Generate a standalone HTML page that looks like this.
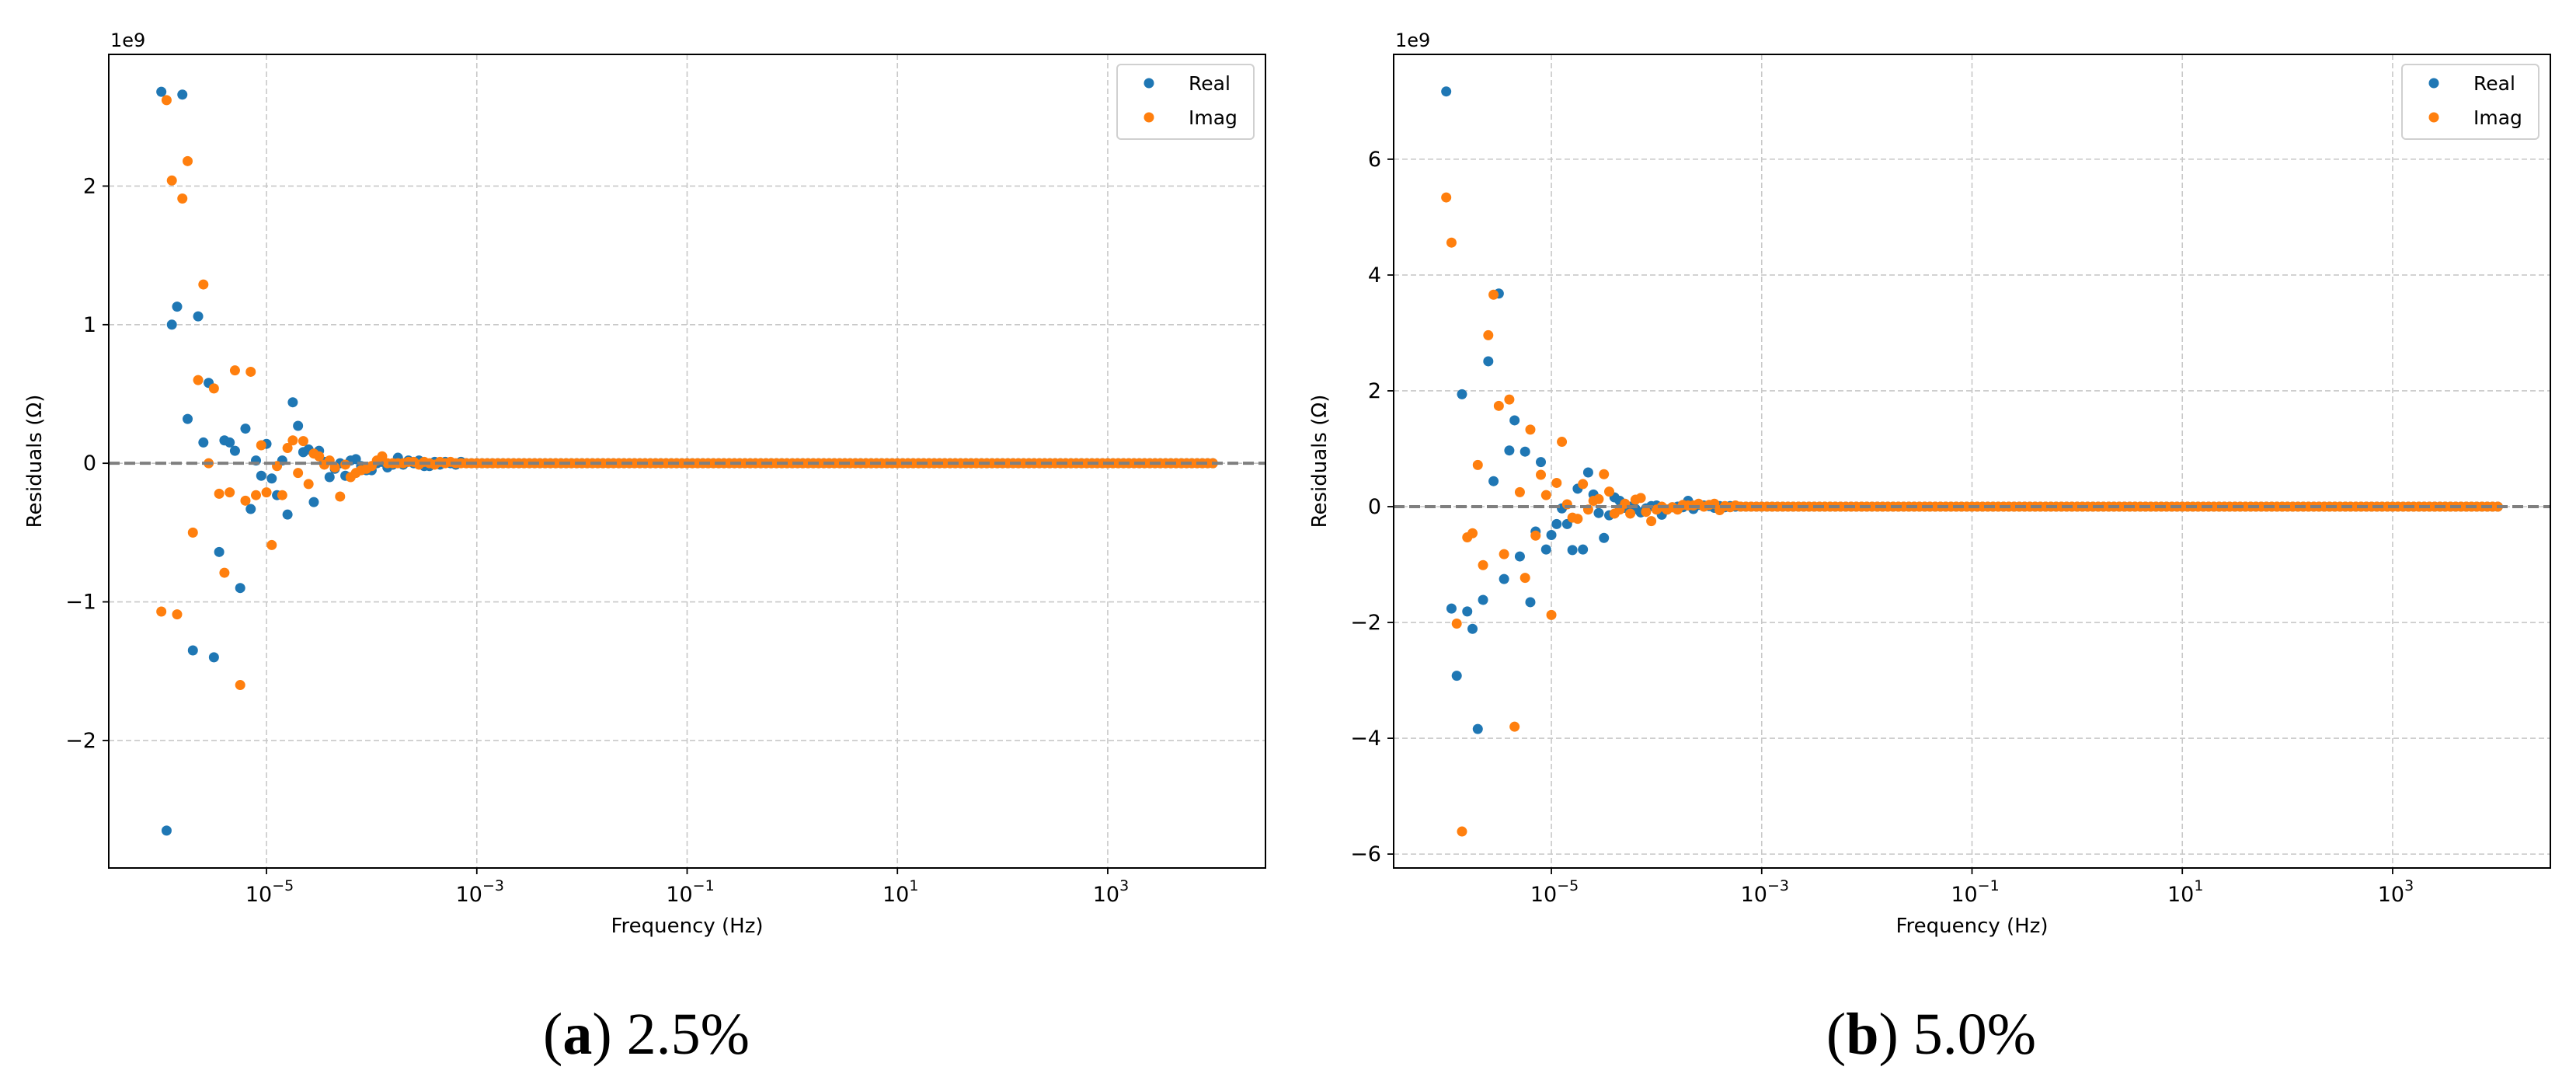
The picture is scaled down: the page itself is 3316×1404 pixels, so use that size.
<!DOCTYPE html>
<html><head><meta charset="utf-8"><style>
html,body{margin:0;padding:0;background:#fff;}
svg{display:block;}
text{font-family:"DejaVu Sans","Liberation Sans",sans-serif;fill:#000;}
.cap{font-family:"Liberation Serif",serif;font-size:76px;}
</style></head><body>
<svg id="fig" width="3316" height="1404" viewBox="0 0 3316 1404" xmlns="http://www.w3.org/2000/svg">
<text class="cap" x="832" y="1356" text-anchor="middle">(<tspan font-weight="bold">a</tspan>) 2.5%</text>
<text class="cap" x="2486" y="1356" text-anchor="middle">(<tspan font-weight="bold">b</tspan>) 5.0%</text>
</svg>
<script>
// ---- data ----
const logFreqStart = -6;       // first frequency exponent (1e-6 Hz)
const logFreqStep = 0.05;      // 20 points per decade
const pointCount = 201;        // up to 1e4 Hz
const xTickExps = [-5, -3, -1, 1, 3];

const realA = [2.68,-2.65,1.0,1.13,2.66,0.32,-1.35,1.06,0.15,0.58,-1.40,-0.64,0.165,0.15,0.09,-0.90,0.25,-0.33,0.02,-0.09,0.14,-0.11,-0.23,0.02,-0.37,0.44,0.27,0.08,0.10,-0.28,0.09,0.01,-0.10,-0.04,0,-0.09,0.02,0.03,-0.02,-0.05,-0.05,0,0.01,-0.03,-0.01,0.04,-0.01,0.02,0,0.02,-0.02,-0.02,0.01,-0.01,0.01,0,-0.01,0.01];
const imagA = [-1.07,2.62,2.04,-1.09,1.91,2.18,-0.50,0.60,1.29,0.0,0.54,-0.22,-0.79,-0.21,0.67,-1.60,-0.27,0.66,-0.23,0.13,-0.21,-0.59,-0.02,-0.23,0.11,0.165,-0.07,0.16,-0.15,0.07,0.05,-0.01,0.02,-0.03,-0.24,-0.01,-0.10,-0.07,-0.05,-0.04,-0.02,0.02,0.05,0,0,0,0,0.01,0.01,-0.01,0.01,0,-0.01,0.01,0,0.01];
const realB = [7.17,-1.76,-2.92,1.94,-1.81,-2.11,-3.84,-1.61,2.51,0.44,3.68,-1.25,0.97,1.49,-0.86,0.95,-1.65,-0.43,0.77,-0.74,-0.49,-0.30,-0.03,-0.30,-0.75,0.31,-0.74,0.59,0.21,-0.11,-0.54,-0.15,0.16,0.10,-0.02,0,-0.04,-0.10,-0.03,0.01,0.02,-0.14,-0.05,-0.01,0,-0.01,0.10,-0.04,0.03,0.02,0.01,-0.02,0.01,-0.01,0.01,0];
const imagB = [5.34,4.56,-2.02,-5.61,-0.53,-0.46,0.72,-1.01,2.96,3.66,1.74,-0.82,1.85,-3.80,0.25,-1.23,1.33,-0.50,0.55,0.20,-1.87,0.41,1.12,0.04,-0.19,-0.21,0.39,-0.05,0.10,0.13,0.56,0.26,-0.12,-0.05,0.05,-0.12,0.12,0.15,-0.09,-0.25,-0.05,0,-0.05,-0.01,-0.05,0.03,0.02,0.02,0.05,0,0.03,0.05,-0.06,0.01,-0.01,0.02,0];
const yTicksA = [-2, -1, 0, 1, 2];
const yTicksB = [-6, -4, -2, 0, 2, 4, 6];

// ---- drawing ----
const NS = "http://www.w3.org/2000/svg";
const svg = document.getElementById('fig');
function mk(tag, attrs, parent) {
  const e = document.createElementNS(NS, tag);
  for (const k in attrs) e.setAttribute(k, attrs[k]);
  (parent || svg).appendChild(e);
  return e;
}
function pad(arr) { const a = arr.slice(); while (a.length < pointCount) a.push(0); return a; }

function drawPanel(p) {
  const g = mk('g', {});
  
  
  const xMin = -6.5, xMax = 4.5;
  const xs = e => p.L + (e - xMin) / (xMax - xMin) * (p.R - p.L);
  const ys = v => p.B - (v - p.yMin) / (p.yMax - p.yMin) * (p.B - p.T);

  xTickExps.forEach(e => {
    const x = xs(e);
    const gl = mk('line', {x1:x, x2:x, y1:p.T, y2:p.B, stroke:'#c8c8c8', 'stroke-width':1.6, 'stroke-dasharray':'7,4'}, g);
    
    
    mk('line', {x1:x, x2:x, y1:p.B, y2:p.B+8, stroke:'#000', 'stroke-width':1.8}, g);
    const t = mk('text', {x:x+4, y:p.B+43, 'font-size':27, 'text-anchor':'middle'}, g);
    
    
    t.textContent = '10';
    const s = mk('tspan', {'font-size':19, dy:-14}, t);
    s.textContent = e < 0 ? '\u2212' + Math.abs(e) : String(e);
  });
  p.yTicks.forEach(v => {
    const y = ys(v);
    const gl = mk('line', {x1:p.L, x2:p.R, y1:y, y2:y, stroke:'#c8c8c8', 'stroke-width':1.6, 'stroke-dasharray':'7,4'}, g);
    
    
    mk('line', {x1:p.L-8, x2:p.L, y1:y, y2:y, stroke:'#000', 'stroke-width':1.8}, g);
    const t = mk('text', {x:p.L-16, y:y+9, 'font-size':27, 'text-anchor':'end'}, g);
    
    
    t.textContent = v < 0 ? '\u2212' + Math.abs(v) : String(v);
  });

  const re = pad(p.real), im = pad(p.imag);
  for (let i = 0; i < pointCount; i++) {
    const c = mk('circle', {cx:xs(logFreqStart + i*logFreqStep), cy:ys(re[i]), r:6.5, fill:'#1f77b4'}, g);
    
    
  }
  for (let i = 0; i < pointCount; i++) {
    const c = mk('circle', {cx:xs(logFreqStart + i*logFreqStep), cy:ys(im[i]), r:6.5, fill:'#ff7f0e'}, g);
    
    
  }
  const z = mk('line', {x1:p.L, x2:p.R, y1:ys(0), y2:ys(0), stroke:'#7f7f7f', 'stroke-width':4, 'stroke-dasharray':'14,6'}, g);
  
  

  const fr = mk('rect', {x:p.L, y:p.T, width:p.R-p.L, height:p.B-p.T, fill:'none', stroke:'#000', 'stroke-width':2}, g);
  
  

  const off = mk('text', {x:p.L+2, y:60, 'font-size':24}, g);
  
  
  off.textContent = '1e9';
  const xl = mk('text', {x:(p.L+p.R)/2, y:1200, 'font-size':26, 'text-anchor':'middle'}, g);
  
  
  xl.textContent = 'Frequency (Hz)';
  const yx = p.L - 87, yy = (p.T + p.B) / 2;
  const yl = mk('text', {x:yx, y:yy, 'font-size':26, 'text-anchor':'middle', transform:`rotate(-90 ${yx} ${yy})`}, g);
  
  
  yl.textContent = 'Residuals (\u03A9)';

  const lg = mk('g', {}, g);
  
  
  const lx = p.R - 191;
  mk('rect', {x:lx, y:83, width:176, height:96, rx:5, fill:'#fff', 'fill-opacity':0.85, stroke:'#d0d0d0', 'stroke-width':2}, lg);
  [['Real','#1f77b4',107],['Imag','#ff7f0e',151]].forEach(([lab,col,y]) => {
    const e = mk('g', {}, lg);
    
    
    mk('circle', {cx:lx+41, cy:y, r:6.5, fill:col}, e);
    const t = mk('text', {x:lx+92, y:y+9, 'font-size':25}, e);
    t.textContent = lab;
  });
}

drawPanel({name:'panel-a', L:140, R:1629, T:70, B:1117, yMin:-2.92, yMax:2.95, yTicks:yTicksA, real:realA, imag:imagA});
drawPanel({name:'panel-b', L:1794, R:3283, T:70, B:1117, yMin:-6.24, yMax:7.81, yTicks:yTicksB, real:realB, imag:imagB});
</script>
</body></html>
